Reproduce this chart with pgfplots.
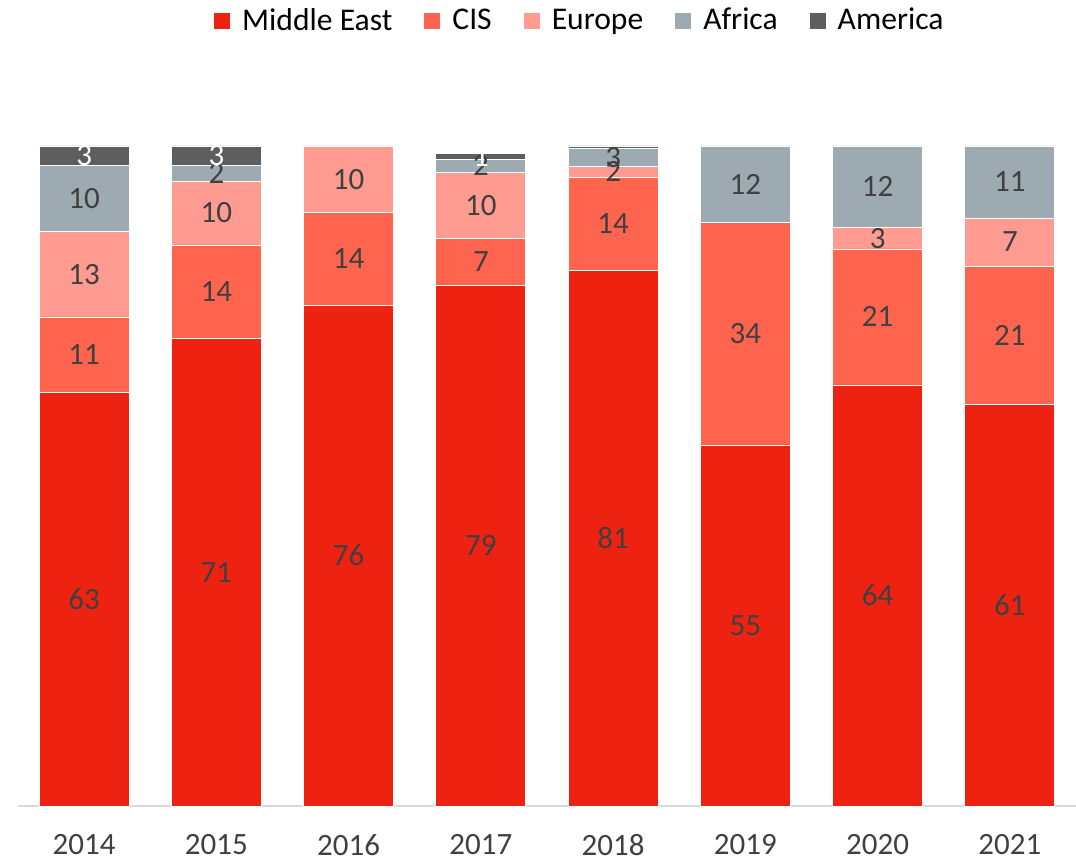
\documentclass[border=0pt]{standalone}
\usepackage{pgfplots}
\pgfplotsset{compat=1.18}
\usepackage{fontspec}
\setmainfont{Carlito}
\definecolor{cME}{RGB}{238,34,17}
\definecolor{cCIS}{RGB}{255,100,78}
\definecolor{cEU}{RGB}{255,155,145}
\definecolor{cAF}{RGB}{158,170,178}
\definecolor{cAM}{RGB}{94,94,94}
\definecolor{txt}{RGB}{64,64,64}
\pgfplotsset{
  frame/.style={at={(0,0)}, anchor=south west,
    scale only axis, width=529pt, height=330pt,
    xmin=-0.5, xmax=7.5, ymin=0, ymax=100},
  lbl/.style={draw=none, mark=none, point meta=explicit symbolic, nodes near coords,
    every node near coord/.append style={anchor=center, font=\fontsize{15.5}{18}\selectfont, text=#1}},
}
\begin{document}
\begin{tikzpicture}
\useasboundingbox (-9pt,-28pt) rectangle (529pt,403pt);
\begin{axis}[
  frame,
  ybar stacked, bar width=45pt,
  axis x line*=bottom, axis y line=none,
  x axis line style={draw=black!15, line width=1pt},
  xtick={0,1,2,3,4,5,6,7},
  xticklabels={2014,2015,2016,2017,2018,2019,2020,2021},
  xtick style={draw=none}, major tick length=0pt,
  xticklabel style={font=\fontsize{15.5}{18}\selectfont, text=txt, yshift=-10.5pt},
  legend columns=5,
  legend style={at={(0.532,1.19)}, anchor=center, draw=none, fill=none,
    font=\fontsize{15.8}{18}\selectfont,
    /tikz/every odd column/.append style={column sep=4pt},
    /tikz/every even column/.append style={column sep=14pt}},
  legend image code/.code={\fill[#1,draw=none] (0pt,-4pt) rectangle (8pt,4pt);},
]
\addplot[fill=cME, draw=white, line width=0.4pt] coordinates {
 (0,62.6) (1,70.8) (2,75.9) (3,78.9) (4,81.1) (5,54.7) (6,63.8) (7,60.9)};
\addplot[fill=cCIS, draw=white, line width=0.4pt] coordinates {
 (0,11.5) (1,14.2) (2,14.0) (3,7.1) (4,14.2) (5,33.7) (6,20.6) (7,20.9)};
\addplot[fill=cEU, draw=white, line width=0.4pt] coordinates {
 (0,12.9) (1,9.7) (2,10.1) (3,10.0) (4,1.6) (5,0) (6,3.3) (7,7.3)};
\addplot[fill=cAF, draw=white, line width=0.4pt] coordinates {
 (0,10.0) (1,2.3) (2,0) (3,2.0) (4,2.7) (5,11.6) (6,12.3) (7,10.9)};
\addplot[fill=cAM, draw=white, line width=0.4pt] coordinates {
 (0,3.0) (1,3.0) (2,0) (3,0.9) (4,0.4) (5,0) (6,0) (7,0)};
\legend{Middle East, CIS, Europe, Africa, America}
\end{axis}
% value labels at the middle of each segment
\begin{axis}[frame, hide axis]
\addplot[lbl=txt] coordinates {
 (0,31.3) [63] (1,35.4) [71] (2,37.95) [76] (3,39.45) [79]
 (4,40.55) [81] (5,27.35) [55] (6,31.9) [64] (7,30.45) [61]};
\addplot[lbl=txt] coordinates {
 (0,68.35) [11] (1,77.9) [14] (2,82.9) [14] (3,82.45) [7]
 (4,88.2) [14] (5,71.55) [34] (6,74.1) [21] (7,71.35) [21]};
\addplot[lbl=txt] coordinates {
 (0,80.55) [13] (1,89.85) [10] (2,94.95) [10] (3,91.0) [10]
 (4,96.1) [2] (6,86.05) [3] (7,85.45) [7]};
\addplot[lbl=txt] coordinates {
 (0,92.0) [10] (1,95.85) [2] (3,97.0) [2]
 (4,98.25) [3] (5,94.2) [12] (6,93.85) [12] (7,94.55) [11]};
\addplot[lbl=white] coordinates {
 (0,98.5) [3] (1,98.5) [3] (3,98.45) [1]};
\end{axis}
\end{tikzpicture}
\end{document}
